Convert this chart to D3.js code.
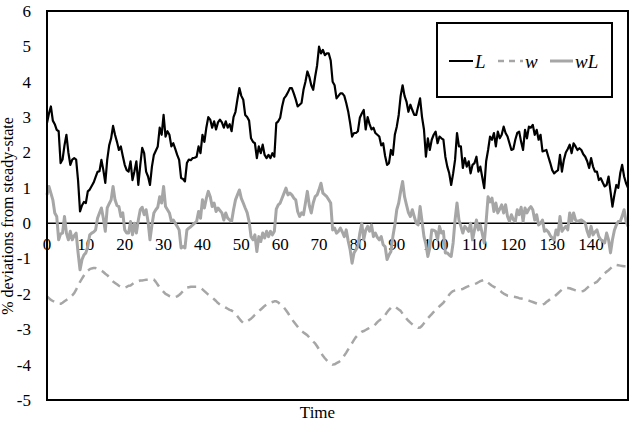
<!DOCTYPE html>
<html>
<head>
<meta charset="utf-8">
<script src="https://cdn.jsdelivr.net/npm/d3@7"></script>
<style>
  body { margin: 0; background: #fff; }
  text { font-family: "Liberation Serif", "Times New Roman", serif; fill: #000; }
</style>
</head>
<body>
<div id="chart"></div>
<script>
// series values, one every half time unit (t = 0, 0.5, ... 149.5)
const L_vals = [
  2.83, 3.1, 3.3, 2.9, 2.8, 2.64, 2.6, 1.7, 1.8, 2.2,
  2.5, 2.0, 1.65, 1.8, 1.84, 1.8, 1.2, 0.33, 0.5, 0.6,
  0.57, 0.9, 0.95, 1.05, 1.15, 1.3, 1.45, 1.47, 1.79, 1.5,
  1.14, 1.8, 2.2, 2.4, 2.75, 2.5, 2.3, 2.07, 2.17, 1.9,
  1.65, 1.5, 1.46, 1.75, 1.22, 1.47, 1.75, 1.08, 1.65, 2.13,
  1.98, 1.46, 1.32, 1.08, 1.6, 1.93, 2.05, 2.17, 2.7, 2.5,
  3.06, 2.45, 2.6, 2.5, 2.17, 2.26, 2.1, 1.93, 1.79, 1.28,
  1.25, 1.18, 1.7, 1.8, 1.78, 1.84, 1.85, 1.88, 2.17, 1.98,
  2.5, 2.3, 2.7, 3.0, 2.93, 2.7, 2.88, 2.65, 2.85, 2.93,
  2.85, 2.7, 2.88, 2.7, 2.8, 2.6, 3.0, 3.15, 3.5, 3.82,
  3.6, 3.49, 3.06, 3.0, 2.9, 2.4, 2.3, 2.26, 1.84, 2.17,
  1.98, 2.22, 1.93, 1.84, 1.93, 1.84, 1.98, 1.88, 2.83, 2.88,
  2.98, 3.3, 3.53, 3.6, 3.7, 3.82, 3.82, 3.67, 3.5, 3.3,
  3.35, 3.4, 3.77, 4.0, 4.29, 4.14, 3.9, 3.77, 4.14, 4.46,
  4.99, 4.8, 4.9, 4.75, 4.8, 4.8, 4.6, 4.0, 3.9, 3.53,
  3.6, 3.67, 3.67, 3.6, 3.4, 3.16, 2.83, 2.45, 2.55, 2.55,
  2.6, 2.98, 3.1, 3.2, 2.65, 3.0, 2.8, 2.65, 2.7, 2.55,
  2.5, 2.45, 2.2, 2.26, 1.9, 1.65, 1.7, 2.07, 1.93, 2.5,
  2.73, 3.06, 3.6, 3.9, 3.6, 3.44, 3.15, 3.35, 3.2, 3.06,
  3.06, 3.3, 3.53, 3.0, 2.65, 1.88, 2.4, 2.07, 2.36, 2.5,
  2.59, 2.26, 2.45, 2.4, 2.36, 1.88, 1.6, 1.41, 1.08, 1.4,
  1.79, 2.55, 2.17, 2.17, 1.56, 1.84, 1.6, 1.75, 1.41, 1.65,
  1.7, 1.88, 1.46, 1.6, 1.3, 0.99, 1.75, 2.07, 2.45, 2.36,
  2.55, 2.17, 2.59, 2.4, 2.5, 2.73, 2.55, 2.45, 2.26, 2.07,
  2.1, 2.36, 2.55, 2.59, 2.3, 2.07, 2.64, 2.4, 2.73, 2.7,
  2.78, 2.5, 2.64, 2.36, 2.5, 2.03, 2.05, 2.07, 1.88, 1.7,
  1.5, 1.41, 1.46, 1.5, 1.93, 1.46, 1.79, 2.0, 2.1, 2.22,
  1.98, 2.26, 2.17, 2.07, 2.12, 2.07, 1.95, 1.88, 1.75, 1.56,
  1.84, 1.6, 1.46, 1.46, 1.22, 1.27, 1.15, 1.04, 1.08, 1.32,
  0.9, 0.47, 0.8, 1.08, 1.0, 1.41, 1.65, 1.32, 1.13, 1.0
]

const w_vals = [
  -2.07, -2.12, -2.17, -2.2, -2.23, -2.26, -2.28, -2.28, -2.25, -2.21,
  -2.17, -2.13, -2.09, -2.04, -1.98, -1.88, -1.76, -1.66, -1.57, -1.48,
  -1.4, -1.34, -1.3, -1.28, -1.27, -1.27, -1.29, -1.31, -1.34, -1.38,
  -1.43, -1.47, -1.53, -1.59, -1.65, -1.69, -1.73, -1.77, -1.8, -1.83,
  -1.82, -1.8, -1.77, -1.76, -1.72, -1.68, -1.65, -1.64, -1.62, -1.62,
  -1.61, -1.6, -1.6, -1.59, -1.58, -1.59, -1.66, -1.74, -1.82, -1.88,
  -1.94, -2.0, -2.03, -2.06, -2.08, -2.1, -2.09, -2.07, -2.03, -1.98,
  -1.92, -1.86, -1.82, -1.81, -1.8, -1.8, -1.8, -1.8, -1.81, -1.83,
  -1.87, -1.92, -1.97, -2.02, -2.06, -2.1, -2.15, -2.2, -2.26, -2.3,
  -2.33, -2.36, -2.39, -2.42, -2.45, -2.47, -2.5, -2.56, -2.63, -2.7,
  -2.77, -2.82, -2.81, -2.78, -2.74, -2.7, -2.65, -2.59, -2.54, -2.49,
  -2.44, -2.39, -2.34, -2.3, -2.27, -2.25, -2.23, -2.21, -2.21, -2.24,
  -2.29, -2.34, -2.39, -2.46, -2.54, -2.63, -2.71, -2.79, -2.86, -2.93,
  -3.0, -3.05, -3.09, -3.13, -3.17, -3.23, -3.29, -3.35, -3.4, -3.48,
  -3.57, -3.66, -3.75, -3.82, -3.88, -3.93, -3.97, -4.0, -3.99, -3.96,
  -3.93, -3.89, -3.82, -3.74, -3.66, -3.57, -3.48, -3.39, -3.3, -3.22,
  -3.16, -3.11, -3.07, -3.05, -3.02, -2.99, -2.96, -2.93, -2.91, -2.86,
  -2.8, -2.75, -2.71, -2.67, -2.6, -2.52, -2.45, -2.39, -2.35, -2.36,
  -2.4, -2.44, -2.48, -2.56, -2.63, -2.7, -2.76, -2.81, -2.86, -2.9,
  -2.94, -2.96, -2.95, -2.9, -2.83, -2.76, -2.69, -2.63, -2.57, -2.51,
  -2.45, -2.4, -2.35, -2.3, -2.25, -2.17, -2.1, -2.02, -1.96, -1.92,
  -1.9, -1.89, -1.88, -1.87, -1.86, -1.83, -1.8, -1.78, -1.76, -1.74,
  -1.72, -1.7, -1.67, -1.64, -1.62, -1.6, -1.63, -1.68, -1.73, -1.77,
  -1.8, -1.83, -1.86, -1.9, -1.95, -1.99, -2.02, -2.05, -2.06, -2.07,
  -2.08, -2.09, -2.1, -2.12, -2.13, -2.14, -2.15, -2.17, -2.19, -2.21,
  -2.23, -2.25, -2.27, -2.29, -2.3, -2.3, -2.28, -2.23, -2.19, -2.15,
  -2.12, -2.08, -2.03, -1.98, -1.93, -1.88, -1.85, -1.83, -1.83, -1.84,
  -1.86, -1.88, -1.9, -1.92, -1.93, -1.93, -1.92, -1.88, -1.83, -1.78,
  -1.74, -1.71, -1.69, -1.66, -1.6, -1.54, -1.48, -1.42, -1.37, -1.33,
  -1.28, -1.22, -1.18, -1.18, -1.19, -1.2, -1.21, -1.22, -1.22, -1.22
]

const wL_vals = [
  0.8, 1.04, 0.85, 0.66, 0.29, 0.19, -0.47, -0.3, -0.28, 0.19,
  -0.28, -0.47, -0.23, -0.47, -0.35, -0.28, -0.84, -1.32, -1.03, -0.9,
  -0.84, -0.66, -0.33, -0.28, -0.25, -0.19, 0.14, 0.29, 0.43, 0.14,
  -0.23, 0.43, 0.55, 0.66, 1.04, 0.66, 0.5, 0.47, 0.19, 0.29,
  -0.19, -0.28, -0.28, 0.05, -0.33, 0.0, -0.28, 0.09, 0.38, 0.45,
  0.24, 0.38, 0.05, -0.47, -0.05, 0.29, 0.38, 0.45, 0.75, 0.57,
  1.04, 0.47, 0.38, 0.29, 0.05, 0.09, 0.0, -0.09, -0.19, -0.7,
  -0.66, -0.7, -0.19, -0.14, -0.1, -0.05, 0.0, 0.05, 0.33, 0.14,
  0.66, 0.43, 0.7, 0.9, 0.75, 0.47, 0.57, 0.33, 0.43, 0.36,
  0.29, 0.09, 0.29, 0.14, 0.09, 0.05, 0.38, 0.66, 0.8, 0.94,
  0.7, 0.57, 0.43, 0.3, 0.05, -0.38, -0.47, -0.33, -0.8, -0.38,
  -0.52, -0.28, -0.42, -0.23, -0.38, -0.23, -0.33, -0.23, 0.4, 0.52,
  0.57, 0.71, 0.85, 0.99, 0.8, 0.85, 0.8, 0.71, 0.66, 0.33,
  0.19, 0.29, 0.24, 0.57, 0.9, 0.5, 0.29, 0.57, 0.75, 0.8,
  0.95, 1.13, 0.85, 0.8, 0.75, 0.66, 0.57, -0.19, -0.14, -0.28,
  -0.23, -0.14, -0.25, -0.38, -0.19, -0.5, -0.75, -1.13, -0.84, -0.75,
  -0.66, -0.28, 0.0, -0.47, -0.2, -0.09, -0.23, -0.05, -0.38, -0.28,
  -0.4, -0.47, -0.38, -0.61, -0.66, -1.03, -0.9, -0.8, -0.38, -0.05,
  0.38, 0.57, 0.9, 1.18, 0.75, 0.52, 0.3, 0.19, 0.38, 0.19,
  0.0, -0.05, 0.47, 0.05, -0.38, -0.6, -0.94, -0.7, -0.19, -0.2,
  -0.23, -0.47, -0.09, -0.28, -0.23, -0.84, -0.84, -0.9, -0.94, -0.56,
  0.09, 0.57, 0.09, -0.09, -0.28, -0.09, -0.15, -0.23, 0.0, -0.47,
  -0.19, 0.09, -0.19, -0.05, -0.3, -0.56, 0.05, 0.75, 0.6, 0.71,
  0.33, 0.57, 0.29, 0.4, 0.52, 0.29, 0.52, 0.19, 0.05, 0.24,
  0.1, 0.05, 0.38, 0.24, 0.45, 0.05, 0.43, 0.29, 0.4, 0.47,
  0.38, 0.09, 0.24, -0.05, 0.0, 0.09, -0.23, -0.19, -0.25, -0.35,
  -0.42, -0.47, -0.19, -0.33, 0.19, -0.23, -0.15, -0.09, -0.19, 0.29,
  0.05, 0.29, 0.09, 0.05, 0.07, 0.09, 0.05, 0.0, -0.23, -0.38,
  -0.09, -0.33, -0.25, -0.19, -0.38, -0.47, -0.5, -0.56, -0.28, -0.47,
  -0.84, -0.47, -0.2, -0.05, 0.05, 0.05, 0.2, 0.38, 0.05, -0.09
]

const x_ticks = [0, 10, 20, 30, 40, 50, 60, 70, 80, 90, 100, 110, 120, 130, 140]
const y_ticks = [-5, -4, -3, -2, -1, 0, 1, 2, 3, 4, 5, 6]
const series_names = ["L", "w", "wL"]

const width = 636
const height = 424
const plot_left = 47
const plot_right = 628
const plot_top = 11
const plot_bottom = 400
const grey = "#a6a6a6"

const time = d3.range(0, L_vals.length).map(i => i * 0.5)

svg = d3.select("#chart")
	.append("svg")
	.attr("width", width)
	.attr("height", height)

var x = d3.scaleLinear()
	.domain([0, time[time.length - 1]])
	.range([plot_left, plot_right])
var y = d3.scaleLinear()
	.domain([-5, 6])
	.range([plot_bottom, plot_top])

// y tick labels
svg.selectAll(".ylab")
	.data(y_ticks)
	.enter().append("text")
	.attr("class", "ylab")
	.attr("x", 31)
	.attr("y", d => y(d))
	.attr("dy", "0.35em")
	.attr("text-anchor", "end")
	.attr("font-size", 17)
	.text(d => d)

// x tick labels sit just under the zero line
svg.selectAll(".xlab")
	.data(x_ticks)
	.enter().append("text")
	.attr("class", "xlab")
	.attr("x", d => x(d))
	.attr("y", y(0) + 21)
	.attr("dy", "0.35em")
	.attr("text-anchor", "middle")
	.attr("font-size", 17)
	.text(d => d)

svg.append("text")
	.attr("x", (plot_left + plot_right) / 2 - 20)
	.attr("y", 412)
	.attr("dy", "0.35em")
	.attr("text-anchor", "middle")
	.attr("font-size", 17)
	.text("Time")

svg.append("text")
	.attr("transform", "translate(13," + 216 + ") rotate(-90)")
	.attr("text-anchor", "middle")
	.attr("font-size", 16)
	.text("% deviations from steady-state")

// zero line
svg.append("line")
	.attr("x1", plot_left)
	.attr("x2", plot_right)
	.attr("y1", y(0))
	.attr("y2", y(0))
	.attr("stroke", "#000")
	.attr("stroke-width", 1.5)

function draw_series(vals, color, w, dash){
	var line = d3.line()
		.x((d, i) => x(time[i]))
		.y(d => y(d))
	svg.append("path")
		.datum(vals)
		.attr("d", line)
		.attr("fill", "none")
		.attr("stroke", color)
		.attr("stroke-width", w)
		.attr("stroke-linejoin", "round")
		.attr("stroke-dasharray", dash)
}

draw_series(L_vals, "#000", 2.2, null)
draw_series(w_vals, grey, 2.5, "9,6")
draw_series(wL_vals, grey, 3, null)

// plot frame
svg.append("rect")
	.attr("x", plot_left)
	.attr("y", plot_top)
	.attr("width", plot_right - plot_left)
	.attr("height", plot_bottom - plot_top)
	.attr("fill", "none")
	.attr("stroke", "#000")
	.attr("stroke-width", 2)

// legend
var legend = svg.append("g")
legend.append("rect")
	.attr("x", 437)
	.attr("y", 23)
	.attr("width", 175)
	.attr("height", 74)
	.attr("fill", "#fff")
	.attr("stroke", "#000")
	.attr("stroke-width", 2)

var leg_items = [
	{name: series_names[0], color: "#000", w: 2, dash: null, x1: 449, x2: 473},
	{name: series_names[1], color: grey, w: 2.5, dash: "6,5", x1: 498, x2: 523},
	{name: series_names[2], color: grey, w: 3, dash: null, x1: 550, x2: 573}
]
leg_items.forEach(function(d){
	legend.append("line")
		.attr("x1", d.x1)
		.attr("x2", d.x2)
		.attr("y1", 61)
		.attr("y2", 61)
		.attr("stroke", d.color)
		.attr("stroke-width", d.w)
		.attr("stroke-dasharray", d.dash)
	legend.append("text")
		.attr("x", d.x2 + 2)
		.attr("y", 61)
		.attr("dy", "0.35em")
		.attr("font-size", 19)
		.attr("font-style", "italic")
		.text(d.name)
})
</script>
</body>
</html>
